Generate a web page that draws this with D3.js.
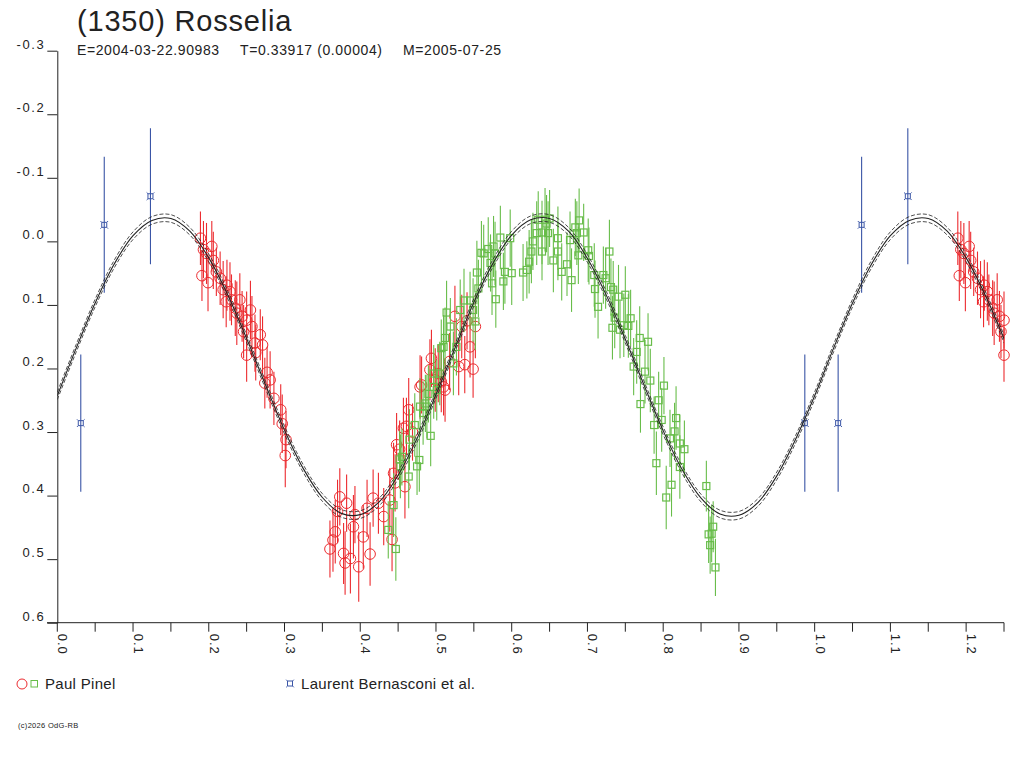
<!DOCTYPE html>
<html><head><meta charset="utf-8">
<script src="https://cdn.jsdelivr.net/npm/d3@7"></script>
<style>
body{margin:0;background:#fff}
svg{display:block}
text{font-family:"Liberation Sans",Arial,sans-serif;fill:#222}
</style>
</head><body>
<svg id="chart" width="1024" height="768"></svg>
<script>
// ---------- DATA ----------
const titleText = "(1350) Rosselia";
const subtitleParts = ["E=2004-03-22.90983", "T=0.33917 (0.00004)", "M=2005-07-25"];
const legendNames = ["Paul Pinel", "Laurent Bernasconi et al."];
const copyrightText = "(c)2026 OdG-RB";

const xMajorTicks = [0.0,0.1,0.2,0.3,0.4,0.5,0.6,0.7,0.8,0.9,1.0,1.1,1.2];
const xMinorTicks = [0.05,0.15,0.25,0.35,0.45,0.55,0.65,0.75,0.85,0.95,1.05,1.15,1.25];
const xTickLabels = ["0.0","0.1","0.2","0.3","0.4","0.5","0.6","0.7","0.8","0.9","1.0","1.1","1.2"];
const yTicks = [-0.3,-0.2,-0.1,0.0,0.1,0.2,0.3,0.4,0.5,0.6];
const yTickLabels = ["-0.3","-0.2","-0.1","0.0","0.1","0.2","0.3","0.4","0.5","0.6"];

// Fitted light curve, one rotation
const curvePhase = [0.000,0.025,0.050,0.075,0.100,0.125,0.150,0.175,0.200,0.225,0.250,0.275,0.300,0.325,0.350,0.375,0.400,0.425,0.450,0.475,
                    0.500,0.525,0.550,0.575,0.600,0.625,0.650,0.675,0.700,0.725,0.750,0.775,0.800,0.825,0.850,0.875,0.900,0.925,0.950,0.975,1.000];
const curveMag   = [0.243,0.168,0.097,0.036,-0.009,-0.033,-0.036,-0.016,0.026,0.084,0.153,0.226,0.297,0.358,0.403,0.428,0.430,0.410,0.368,0.310,
                    0.241,0.168,0.096,0.035,-0.010,-0.034,-0.036,-0.016,0.027,0.085,0.154,0.227,0.298,0.359,0.404,0.429,0.431,0.411,0.369,0.311,0.243];
const curveSigma = 0.006;

// Paul Pinel, session 1 (red circles)
const redPhase = [0.189,0.193,0.204,0.191,0.199,0.197,0.210,0.215,0.219,0.224,0.228,0.230,0.235,0.237,0.244,0.250,0.246,0.257,0.268,0.261,
                  0.250,0.271,0.274,0.281,0.286,0.295,0.297,0.302,0.301,0.277,0.255,0.241,0.223,0.206,0.262,
                  0.360,0.367,0.373,0.378,0.380,0.382,0.387,0.391,0.398,0.404,0.409,0.413,0.417,0.424,0.431,0.439,0.442,0.444,0.446,0.448,
                  0.452,0.457,0.459,0.461,0.464,0.469,0.479,0.481,0.492,0.494,0.499,0.503,0.507,0.510,0.512,0.518,0.525,0.530,0.534,0.538,
                  0.545,0.549,0.552,0.541,0.370,0.393,0.364];
const redMag   = [-0.005,0.013,0.008,0.054,0.065,0.019,0.048,0.058,0.076,0.069,0.079,0.092,0.105,0.113,0.118,0.124,0.142,0.134,0.147,0.160,
                  0.179,0.163,0.223,0.218,0.247,0.265,0.287,0.312,0.337,0.206,0.108,0.092,0.095,0.030,0.175,
                  0.484,0.457,0.402,0.491,0.506,0.412,0.499,0.449,0.512,0.465,0.420,0.492,0.404,0.412,0.433,0.407,0.469,0.365,0.380,0.320,
                  0.327,0.294,0.386,0.291,0.265,0.300,0.229,0.226,0.202,0.184,0.218,0.208,0.221,0.229,0.234,0.189,0.118,0.197,0.134,0.194,
                  0.166,0.201,0.134,0.125,0.425,0.430,0.470];
const redErr   = [0.042,0.045,0.040,0.040,0.045,0.048,0.038,0.042,0.045,0.040,0.046,0.040,0.044,0.050,0.040,0.045,0.042,0.048,0.040,0.045,
                  0.042,0.045,0.040,0.045,0.042,0.040,0.046,0.045,0.050,0.040,0.046,0.042,0.040,0.045,0.044,
                  0.045,0.050,0.045,0.048,0.050,0.045,0.055,0.050,0.055,0.050,0.045,0.050,0.045,0.048,0.045,0.050,0.050,0.048,0.045,0.050,
                  0.045,0.048,0.050,0.045,0.050,0.045,0.050,0.045,0.048,0.045,0.050,0.045,0.048,0.045,0.050,0.045,0.048,0.045,0.050,0.045,
                  0.048,0.045,0.050,0.045,0.050,0.045,0.050];

// Paul Pinel, session 2 (green squares)
const greenPhase = [0.437,0.444,0.447,0.452,0.453,0.455,0.464,0.465,0.472,0.475,0.478,0.479,0.483,0.486,0.488,0.493,0.490,0.497,0.497,0.501,
                    0.505,0.507,0.510,0.512,0.514,0.519,0.523,0.527,0.532,0.537,0.545,0.549,0.552,0.554,0.556,0.560,0.563,0.569,0.572,0.574,
                    0.576,0.578,0.579,0.585,0.589,0.591,0.598,0.600,0.615,0.623,0.620,0.626,0.628,0.633,0.635,0.640,0.640,0.644,0.646,0.648,
                    0.650,0.655,0.661,0.661,0.666,0.673,0.677,0.679,0.684,0.686,0.688,0.689,0.695,0.701,0.702,0.709,0.710,0.714,0.721,0.724,
                    0.729,0.731,0.733,0.734,0.736,0.741,0.743,0.748,0.750,0.754,0.757,0.765,0.761,0.769,0.770,0.776,0.780,0.783,0.788,0.791,
                    0.794,0.798,0.801,0.804,0.809,0.811,0.815,0.817,0.822,0.822,0.828,0.857,0.860,0.862,0.866,0.869,0.864];
const greenMag   = [0.454,0.415,0.484,0.343,0.354,0.339,0.370,0.312,0.289,0.354,0.344,0.260,0.270,0.255,0.260,0.306,0.240,0.229,0.208,0.234,
                    0.208,0.168,0.166,0.152,0.112,0.134,0.192,0.166,0.108,0.093,0.093,0.108,0.126,0.049,0.074,0.018,0.019,0.012,0.034,0.066,
                    0.008,0.019,0.091,-0.006,0.063,0.048,-0.005,0.050,0.049,0.032,0.045,0.016,0.000,-0.013,-0.034,-0.014,0.016,-0.034,-0.028,-0.013,
                    -0.036,0.030,0.016,-0.005,0.048,0.036,-0.002,0.061,-0.022,-0.013,0.022,-0.033,-0.014,0.014,0.023,0.053,0.075,0.103,0.053,0.058,
                    0.016,0.072,0.136,0.076,0.120,0.087,0.139,0.132,0.084,0.133,0.121,0.174,0.197,0.152,0.256,0.205,0.158,0.219,0.289,0.349,
                    0.250,0.281,0.227,0.403,0.310,0.383,0.299,0.278,0.318,0.355,0.327,0.385,0.461,0.478,0.449,0.513,0.460];
const greenErr   = [0.045,0.050,0.050,0.045,0.050,0.045,0.050,0.048,0.050,0.045,0.050,0.045,0.050,0.045,0.050,0.048,0.045,0.050,0.045,0.048,
                    0.050,0.045,0.050,0.048,0.050,0.045,0.050,0.045,0.048,0.050,0.045,0.050,0.045,0.050,0.045,0.050,0.045,0.050,0.045,0.050,
                    0.048,0.050,0.045,0.050,0.045,0.050,0.045,0.050,0.045,0.050,0.045,0.050,0.045,0.050,0.045,0.050,0.045,0.050,0.045,0.050,
                    0.045,0.050,0.045,0.050,0.045,0.050,0.045,0.050,0.045,0.050,0.045,0.050,0.045,0.050,0.045,0.050,0.045,0.050,0.045,0.048,
                    0.050,0.045,0.050,0.045,0.048,0.050,0.045,0.050,0.045,0.050,0.045,0.050,0.045,0.050,0.045,0.050,0.045,0.050,0.045,0.050,
                    0.045,0.050,0.045,0.050,0.045,0.050,0.045,0.050,0.045,0.050,0.045,0.040,0.045,0.045,0.040,0.045,0.045];

// Laurent Bernasconi et al. (blue)
const bluePhase = [0.987,0.031,0.062,0.123];
const blueMag   = [0.286,0.286,-0.026,-0.071];
const blueErr   = [0.108,0.108,0.107,0.107];

// ---------- CHART ----------
const svg = d3.select("#chart");
const X0 = 0, X1 = 1.25;
const x = d3.scaleLinear().domain([X0, X1]).range([57.3, 1004]);
const y = d3.scaleLinear().domain([-0.3, 0.6]).range([50.7, 622.7]);
const colRed = "#ec2b2f", colGreen = "#68bd4a", colBlue = "#3a55a6", colInk = "#222";

// title
svg.append("text").attr("x", 77).attr("y", 31).attr("font-size", 29).attr("letter-spacing", 0.8).text(titleText);
const subX = [77, 240, 403];
subtitleParts.forEach((s, i) => svg.append("text").attr("x", subX[i]).attr("y", 55)
  .attr("font-size", 14).attr("letter-spacing", 0.6).text(s));

// y axis
const yAxis = d3.axisLeft(y).tickValues(yTicks).tickSize(10).tickSizeOuter(0).tickPadding(2)
  .tickFormat((d, i) => yTickLabels[i]);
const gy = svg.append("g").attr("transform", `translate(${x(0)},0)`).call(yAxis);
gy.selectAll("path,line").attr("stroke", colInk);
gy.selectAll("text").attr("font-size", 13).attr("letter-spacing", 1.6).attr("dy", "-0.2em")
  .attr("font-family", '"Liberation Sans",Arial,sans-serif').attr("fill", colInk);

// x axis
const gx = svg.append("g");
gx.append("line").attr("x1", 47).attr("x2", x(X1)).attr("y1", y(0.6)).attr("y2", y(0.6)).attr("stroke", colInk);
gx.selectAll("line.tk").data(xMajorTicks.concat(xMinorTicks)).join("line").attr("class", "tk")
  .attr("x1", d => x(d)).attr("x2", d => x(d)).attr("y1", y(0.6)).attr("y2", y(0.6) + 9).attr("stroke", colInk);
gx.selectAll("text").data(xMajorTicks).join("text")
  .attr("transform", d => `translate(${x(d) + 1},${y(0.6) + 11}) rotate(90)`)
  .attr("font-size", 13).attr("letter-spacing", 1).text((d, i) => xTickLabels[i]);

// wrap helper
function wrapped(ph, mg, er) {
  const out = [];
  ph.forEach((p, i) => {
    [p - 1, p, p + 1].forEach(q => { if (q >= X0 - 1e-9 && q <= X1 + 1e-9) out.push({p: q, m: mg[i], e: er[i]}); });
  });
  return out;
}
const redPts = wrapped(redPhase, redMag, redErr);
const greenPts = wrapped(greenPhase, greenMag, greenErr);
const bluePts = wrapped(bluePhase, blueMag, blueErr);

function errBars(g, pts, col) {
  g.selectAll("line.eb").data(pts).join("line").attr("class", "eb")
    .attr("x1", d => x(d.p)).attr("x2", d => x(d.p))
    .attr("y1", d => y(d.m - d.e)).attr("y2", d => y(d.m + d.e))
    .attr("stroke", col).attr("stroke-width", 1.1);
}

// red
const gr = svg.append("g");
errBars(gr, redPts, colRed);
gr.selectAll("circle").data(redPts).join("circle").attr("cx", d => x(d.p)).attr("cy", d => y(d.m)).attr("r", 5.3)
  .attr("fill", "none").attr("stroke", colRed).attr("stroke-width", 1);
// green
const gg = svg.append("g");
errBars(gg, greenPts, colGreen);
gg.selectAll("rect").data(greenPts).join("rect").attr("x", d => x(d.p) - 3.5).attr("y", d => y(d.m) - 3.5)
  .attr("width", 7).attr("height", 7).attr("fill", "none").attr("stroke", colGreen).attr("stroke-width", 1.2);

// blue marker path
function bluePath(cx, cy) {
  const s = 2.5, t = 1.3;
  return `M${cx-s},${cy-s}H${cx+s}V${cy+s}H${cx-s}Z` +
    `M${cx-s-t},${cy-s-t}L${cx-s},${cy-s}M${cx+s+t},${cy-s-t}L${cx+s},${cy-s}` +
    `M${cx-s-t},${cy+s+t}L${cx-s},${cy+s}M${cx+s+t},${cy+s+t}L${cx+s},${cy+s}`;
}
const gb = svg.append("g");
errBars(gb, bluePts, colBlue);
gb.selectAll("path").data(bluePts).join("path").attr("d", d => bluePath(x(d.p), y(d.m)))
  .attr("fill", "none").attr("stroke", colBlue).attr("stroke-width", 1);

// fitted curve
const curvePts = [];
[0, 1].forEach(k => curvePhase.forEach((p, i) => {
  const q = p + k;
  if (q <= X1 + 0.03 && !(k === 1 && i === 0)) curvePts.push({p: q, m: curveMag[i]});
}));
svg.append("clipPath").attr("id", "clip").append("rect").attr("x", x(X0)).attr("y", 0).attr("width", x(X1) - x(X0)).attr("height", 768);
const line = off => d3.line().x(d => x(d.p)).y(d => y(d.m + off)).curve(d3.curveCatmullRom);
const gc = svg.append("g").attr("clip-path", "url(#clip)");
gc.append("path").attr("d", line(0)(curvePts)).attr("fill", "none").attr("stroke", colInk).attr("stroke-width", 1.1);
gc.append("path").attr("d", line(-curveSigma)(curvePts)).attr("fill", "none").attr("stroke", colInk).attr("stroke-width", 0.8).attr("stroke-dasharray", "4,2");
gc.append("path").attr("d", line(curveSigma)(curvePts)).attr("fill", "none").attr("stroke", colInk).attr("stroke-width", 0.8).attr("stroke-dasharray", "4,2");

// legend
svg.append("circle").attr("cx", 22).attr("cy", 684).attr("r", 5).attr("fill", "none").attr("stroke", colRed);
svg.append("rect").attr("x", 31).attr("y", 680.5).attr("width", 6.5).attr("height", 6.5).attr("fill", "none").attr("stroke", colGreen);
svg.append("text").attr("x", 45).attr("y", 689).attr("font-size", 15).attr("letter-spacing", 0.3).text(legendNames[0]);
svg.append("path").attr("d", bluePath(290, 683.5)).attr("fill", "none").attr("stroke", colBlue);
svg.append("text").attr("x", 301).attr("y", 689).attr("font-size", 15).attr("letter-spacing", 0.3).text(legendNames[1]);

// copyright
svg.append("text").attr("x", 18).attr("y", 728).attr("font-size", 7.5).attr("letter-spacing", 0.3).text(copyrightText);
</script>
</body></html>
